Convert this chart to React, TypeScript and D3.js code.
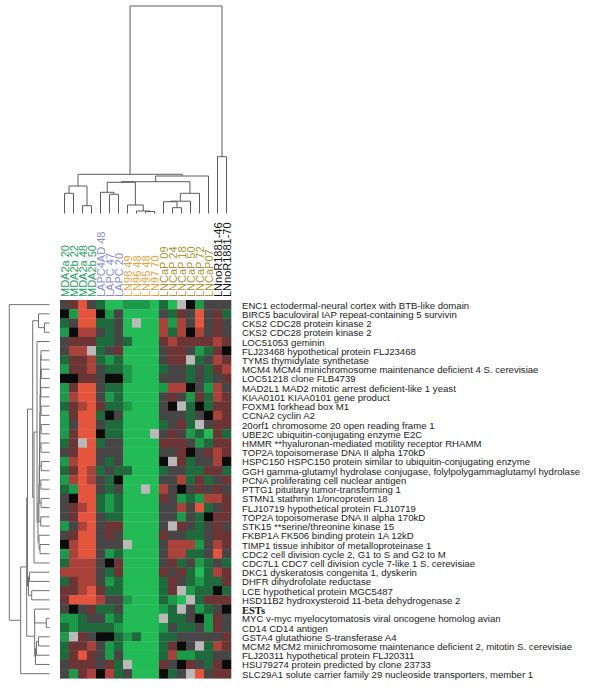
import React from 'react';
import * as d3 from 'd3';

const COLUMNS = [
  'MDA2a 20', 'MDA2b 22', 'MDA2a 48', 'MDA2b 50',
  'LAPC4AD 48', 'LAPC 47', 'LAPC 20',
  'LN98 49', 'LN96 48', 'LN95 48', 'LN97 70',
  'LNCaP 09', 'LNCaP 24', 'LNCaP 18', 'LNCaP 50', 'LNCaP 72', 'LNCaP07',
  'LNnoR1881-46', 'LNnoR1881-70',
];
const COLUMN_GROUPS = [
  'MDA', 'MDA', 'MDA', 'MDA',
  'LAPC', 'LAPC', 'LAPC',
  'LN', 'LN', 'LN', 'LN',
  'LNCaP', 'LNCaP', 'LNCaP', 'LNCaP', 'LNCaP', 'LNCaP',
  'noR', 'noR',
];
const GROUP_NAMES = ['MDA', 'LAPC', 'LN', 'LNCaP', 'noR'];
const GROUP_COLORS = ['#1f9e63', '#8a8ad0', '#e6a03c', '#ad9236', '#111111'];

const GENES = [
  'ENC1 ectodermal-neural cortex with BTB-like domain',
  'BIRC5 baculoviral IAP repeat-containing 5 survivin',
  'CKS2 CDC28 protein kinase 2',
  'CKS2 CDC28 protein kinase 2',
  'LOC51053 geminin',
  'FLJ23468 hypothetical protein FLJ23468',
  'TYMS thymidylate synthetase',
  'MCM4 MCM4 minichromosome maintenance deficient 4 S. cerevisiae',
  'LOC51218 clone FLB4739',
  'MAD2L1 MAD2 mitotic arrest deficient-like 1 yeast',
  'KIAA0101 KIAA0101 gene product',
  'FOXM1 forkhead box M1',
  'CCNA2 cyclin A2',
  '20orf1 chromosome 20 open reading frame 1',
  'UBE2C ubiquitin-conjugating enzyme E2C',
  'HMMR **hyaluronan-mediated motility receptor RHAMM',
  'TOP2A topoisomerase DNA II alpha 170kD',
  'HSPC150 HSPC150 protein similar to ubiquitin-conjugating enzyme',
  'GGH gamma-glutamyl hydrolase conjugase, folylpolygammaglutamyl hydrolase',
  'PCNA proliferating cell nuclear antigen',
  'PTTG1 pituitary tumor-transforming 1',
  'STMN1 stathmin 1/oncoprotein 18',
  'FLJ10719 hypothetical protein FLJ10719',
  'TOP2A topoisomerase DNA II alpha 170kD',
  'STK15 **serine/threonine kinase 15',
  'FKBP1A FK506 binding protein 1A 12kD',
  'TIMP1 tissue inhibitor of metalloproteinase 1',
  'CDC2 cell division cycle 2, G1 to S and G2 to M',
  'CDC7L1 CDC7 cell division cycle 7-like 1 S. cerevisiae',
  'DKC1 dyskeratosis congenita 1, dyskerin',
  'DHFR dihydrofolate reductase',
  'LCE hypothetical protein MGC5487',
  'HSD11B2 hydroxysteroid 11-beta dehydrogenase 2',
  'ESTs',
  'MYC v-myc myelocytomatosis viral oncogene homolog avian',
  'CD14 CD14 antigen',
  'GSTA4 glutathione S-transferase A4',
  'MCM2 MCM2 minichromosome maintenance deficient 2, mitotin S. cerevisiae',
  'FLJ20311 hypothetical protein FLJ20311',
  'HSU79274 protein predicted by clone 23733',
  'SLC29A1 solute carrier family 29 nucleoside transporters, member 1',
];

// expression level codes per cell (G bright green ... R bright red, K black, x missing)
const LEVEL_CODES = ['G', 'g', 'd', 'k', 'K', 'b', 'r', 'R', 'x'];
const LEVEL_COLORS = ['#22bb55', '#1c9a4a', '#1f6a3c', '#474545', '#0b0b0b', '#6c3434', '#a8423a', '#e4553e', '#b9b9b9'];

const MATRIX = [
  'kbRkdGGgggGdGxKgkkk',
  'KgRRKgkGGGGkdbkRkbd',
  'dkRRddkGxGGrgrkRkbk',
  'gKrrkdkGGGGrdrKrkbk',
  'kbbbddkdGGGbrbbbbrb',
  'krrxdkbGGGGkbbkgdbK',
  'dbbrdgdGGGGkbbxdkrb',
  'gbbrkddgGGGdkkdkdbr',
  'KKbbkKKgGGGkkkdkdkb',
  'gbRRkddGGGGgrrKkgrk',
  'grRRkgdGGGGkbkgbdrb',
  'dbrRbddgGGGkKxdKdbb',
  'gbRRdKkGGGGkkkdkKrb',
  'gkRRkddGGGGdkbdxkbb',
  'gbRRKddGGGxkbkgdGbd',
  'dbxRdkkGGGGbbbkgdbb',
  'kbRRkkkGGGGkkbKkbrb',
  'grRRkdkGGGGKxbdkkrK',
  'dbRrdkddGGGdkkddbbd',
  'grRrkdKGGGGkkrdbdkb',
  'dgRRkdkGGxGrkKkbkbk',
  'kKRRdgdGGGGbkgdgrrb',
  'kbrRdgdGGGGkkrkRdkb',
  'kbRRkddGGGGkkgkdKbb',
  'gkrRkbbGGGGkxbkdkbk',
  'kbRRkbkGGGGbkkddkbb',
  'KrRRkkkxGGGkrrrgkrb',
  'grRRkgdGGGGkrrddkRk',
  'drrrkKbGGGGkbdkgdkd',
  'rrrrkdbGGGGbkbdGdrb',
  'dbrrkgdGGGGdbkdgddb',
  'bbrRbddGGGGdbxgddKd',
  'bRRRrkkgGGGdgGxdbbb',
  'kKkbddkGGGGgdxkgdkK',
  'ggdkkgdGGGGxddkKgbk',
  'dgddddgGGGGgkddkgbk',
  'gxbkKKdgdGGddkkkkkb',
  'dbbrkgdGGGGdbKkxdrb',
  'dbRbkgkGGGGdrggddkk',
  'kbbbkbdxGGGbkKbkdbK',
  'kgbrKrdkGGGKdkxRkbb',
];

// column dendrogram merges: [child, child, height]; leaves 0..18, merges numbered from 19
const TOP_MERGES: [number, number, number][] = [
  [9, 10, 2.0],    // 19
  [8, 19, 2.5],    // 20
  [7, 20, 8.5],    // 21
  [5, 6, 19.2],    // 22
  [4, 22, 21.2],   // 23
  [12, 13, 5.8],   // 24
  [11, 24, 11.8],  // 25
  [25, 14, 12.3],  // 26
  [26, 15, 20.2],  // 27
  [23, 21, 31.2],  // 28
  [28, 27, 31.8],  // 29
  [29, 16, 37.5],  // 30
  [0, 1, 20.2],    // 31
  [2, 3, 7.8],     // 32
  [31, 32, 27.5],  // 33
  [33, 30, 39.2],  // 34
  [17, 18, 56.8],  // 35
  [34, 35, 207.5], // 36
];

// row dendrogram merges: leaves 0..40, merges numbered from 41
const LEFT_MERGES: [number, number, number][] = [
  [2, 3, 5],      // 41
  [1, 41, 11],    // 42
  [5, 6, 8.5],    // 43
  [7, 8, 8.2],    // 44
  [43, 44, 8.8],  // 45
  [9, 10, 8.6],   // 46
  [45, 46, 9.0],  // 47
  [11, 12, 8.4],  // 48
  [47, 48, 9.2],  // 49
  [13, 14, 8.3],  // 50
  [49, 50, 9.4],  // 51
  [15, 16, 8.5],  // 52
  [51, 52, 9.6],  // 53
  [17, 18, 8.2],  // 54
  [53, 54, 9.8],  // 55
  [19, 20, 8.6],  // 56
  [55, 56, 10.0], // 57
  [21, 22, 8.4],  // 58
  [57, 58, 10.3], // 59
  [23, 24, 8.8],  // 60
  [59, 60, 10.6], // 61
  [26, 27, 9.5],  // 62
  [25, 62, 10.5], // 63
  [61, 63, 11.5], // 64
  [4, 64, 12.5],  // 65
  [65, 28, 15.5], // 66
  [42, 66, 16.8], // 67
  [34, 35, 3.2],  // 68
  [33, 68, 15],   // 69
  [36, 37, 11],   // 70
  [70, 38, 13],   // 71
  [71, 39, 14],   // 72
  [69, 72, 14.8], // 73
  [31, 32, 17.8], // 74
  [29, 30, 20],   // 75
  [75, 74, 21],   // 76
  [67, 76, 22],   // 77
  [77, 73, 22.8], // 78
  [78, 40, 28.8], // 79
  [0, 79, 40.2],  // 80
];

type TNode = { pos: number; h: number; a?: TNode; b?: TNode };

function buildTree(n: number, merges: [number, number, number][], leafPos: (i: number) => number): TNode[] {
  const nodes: TNode[] = [];
  for (let i = 0; i < n; i++) nodes.push({ pos: leafPos(i), h: 0 });
  for (const [a, b, h] of merges) {
    const na = nodes[a];
    const nb = nodes[b];
    nodes.push({ pos: (na.pos + nb.pos) / 2, h, a: na, b: nb });
  }
  return nodes;
}

export default function App() {
  const W = 600;
  const H = 691;
  const hmLeft = 60;
  const hmRight = 231;
  const hmTop = 300;
  const hmBottom = 678.3;

  const x = d3.scaleBand<number>().domain(d3.range(COLUMNS.length)).range([hmLeft, hmRight]);
  const y = d3.scaleBand<number>().domain(d3.range(GENES.length)).range([hmTop, hmBottom]);
  const color = d3.scaleOrdinal<string, string>().domain(LEVEL_CODES).range(LEVEL_COLORS);
  const groupColor = d3.scaleOrdinal<string, string>().domain(GROUP_NAMES).range(GROUP_COLORS);

  const topH = d3.scaleLinear().domain([0, 207.5]).range([213.5, 6]);
  const leftH = d3.scaleLinear().domain([0, 40.2]).range([49.5, 9.3]);

  const topNodes = buildTree(COLUMNS.length, TOP_MERGES, (i) => x(i)! + x.bandwidth() / 2);
  const leftNodes = buildTree(GENES.length, LEFT_MERGES, (i) => y(i)! + y.bandwidth() / 2);

  const topPaths: string[] = [];
  for (const nd of topNodes) {
    if (!nd.a || !nd.b) continue;
    const yy = topH(nd.h);
    const p = d3.path();
    p.moveTo(nd.a.pos, topH(nd.a.h));
    p.lineTo(nd.a.pos, yy);
    p.lineTo(nd.b.pos, yy);
    p.lineTo(nd.b.pos, topH(nd.b.h));
    topPaths.push(p.toString());
  }
  const leftPaths: string[] = [];
  for (const nd of leftNodes) {
    if (!nd.a || !nd.b) continue;
    const xx = leftH(nd.h);
    const p = d3.path();
    p.moveTo(leftH(nd.a.h), nd.a.pos);
    p.lineTo(xx, nd.a.pos);
    p.lineTo(xx, nd.b.pos);
    p.lineTo(leftH(nd.b.h), nd.b.pos);
    leftPaths.push(p.toString());
  }

  return (
    <svg width={W} height={H} style={{ position: 'absolute', left: 0, top: 0, background: '#fff' }}
      fontFamily="'Liberation Sans', Arial, sans-serif">
      <g>
        {topPaths.map((d, i) => (
          <path key={i} d={d} fill="none" stroke="#5a5a5a" strokeWidth={1} />
        ))}
      </g>
      <g>
        {leftPaths.map((d, i) => (
          <path key={i} d={d} fill="none" stroke="#707070" strokeWidth={1} />
        ))}
      </g>
      <g>
        {COLUMNS.map((c, i) => (
          <text key={c} transform={`translate(${x(i)! + x.bandwidth() / 2 + 4},297) rotate(-90)`}
            fontSize={11} fill={groupColor(COLUMN_GROUPS[i])}>{c}</text>
        ))}
      </g>
      <g>
        {MATRIX.map((row, r) =>
          row.split('').map((code, c) => (
            <rect key={`${r}-${c}`} x={x(c)} y={y(r)} width={x.bandwidth() + 0.3} height={y.bandwidth() + 0.3}
              fill={color(code)} />
          ))
        )}
      </g>
      <g>
        {GENES.map((g, r) => (
          g === 'ESTs' ? (
            <text key={r} x={242} y={y(r)! + y.bandwidth() / 2 + 4.5} fontSize={10.5} fontWeight="bold"
              fontFamily="'Liberation Serif', 'Times New Roman', serif" fill="#111">{g}</text>
          ) : (
            <text key={r} x={242} y={y(r)! + y.bandwidth() / 2 + 4} fontSize={9.6} fill="#222">{g}</text>
          )
        ))}
      </g>
    </svg>
  );
}
